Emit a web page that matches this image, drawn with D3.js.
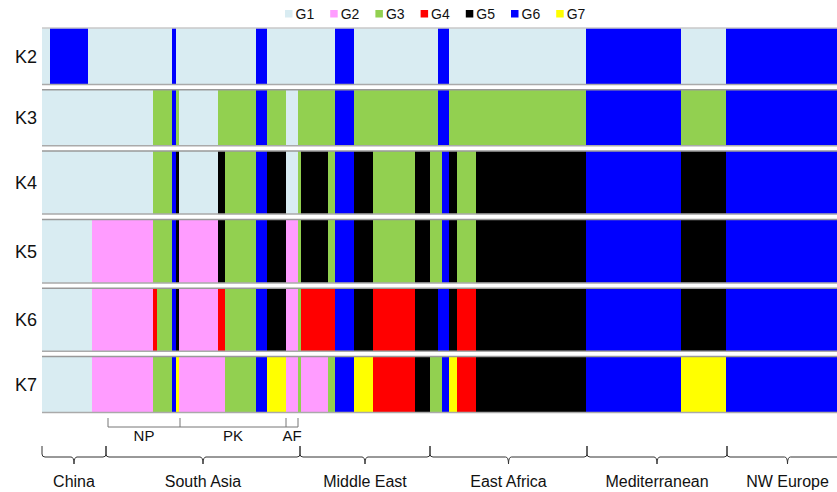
<!DOCTYPE html>
<html>
<head>
<meta charset="utf-8">
<script src="https://cdn.jsdelivr.net/npm/d3@7"></script>
<style>
  body { margin: 0; background: #fff; }
  svg { display: block; font-family: "Liberation Sans", Arial, sans-serif; }
</style>
</head>
<body>
<div id="chart"></div>
<script>
// cluster groups and their colours
const groups = ["G1", "G2", "G3", "G4", "G5", "G6", "G7"];
const groupColors = ["#d9ecf2", "#ff9cff", "#92d050", "#ff0000", "#000000", "#0000ff", "#ffff00"];

// K values (rows)
const kLabels = ["K2", "K3", "K4", "K5", "K6", "K7"];

// sample blocks, number of individuals in each block (left to right)
const blockSizes = [8, 38, 4, 61, 4, 15, 4, 3, 39, 7, 31, 11, 19, 12, 3, 27, 7, 19, 19, 42, 15, 8, 4, 7, 8, 19, 110, 95, 45, 122];

// dominant cluster of each block per K (1 = G1 ... 7 = G7)
const assignK2 = [1, 6, 1, 1, 1, 1, 6, 1, 1, 1, 1, 6, 1, 1, 1, 1, 1, 6, 1, 1, 1, 1, 6, 6, 1, 1, 1, 6, 1, 6];
const assignK3 = [1, 1, 1, 1, 3, 3, 6, 3, 1, 3, 3, 6, 3, 1, 3, 3, 3, 6, 3, 3, 3, 3, 6, 6, 3, 3, 3, 6, 3, 6];
const assignK4 = [1, 1, 1, 1, 3, 3, 6, 5, 1, 5, 3, 6, 5, 1, 3, 5, 3, 6, 5, 3, 5, 3, 3, 6, 5, 3, 5, 6, 5, 6];
const assignK5 = [1, 1, 1, 2, 3, 3, 6, 5, 2, 5, 3, 6, 5, 2, 3, 5, 3, 6, 5, 3, 5, 3, 3, 6, 5, 3, 5, 6, 5, 6];
const assignK6 = [1, 1, 1, 2, 4, 3, 6, 5, 2, 4, 3, 6, 5, 2, 3, 4, 4, 6, 5, 4, 5, 5, 6, 6, 5, 4, 5, 6, 5, 6];
const assignK7 = [1, 1, 1, 2, 3, 3, 6, 7, 2, 2, 3, 6, 7, 2, 3, 2, 3, 6, 7, 4, 5, 3, 3, 6, 7, 4, 5, 6, 7, 6];
const assignments = [assignK2, assignK3, assignK4, assignK5, assignK6, assignK7];

// regions (individual counts)
const regions = ["China", "South Asia", "Middle East", "East Africa", "Mediterranean", "NW Europe"];
const regionSizes = [64, 194, 130, 157, 140, 121];

// South Asia sub-populations
const subRegions = ["NP", "PK", "AF"];
const subStart = 66;
const subSizes = [72, 106, 12];

// ---- layout ----
const width = 837, height = 492;
const plotLeft = 42, plotRight = 848;
const rowHeights = [56.5, 56, 63, 63.5, 63, 56];
const rowGap = 5.3;
const plotTop = 28;

const svg = d3.select("#chart").append("svg")
  .attr("width", width)
  .attr("height", height);

const total = d3.sum(blockSizes);
const x = d3.scaleLinear().domain([0, total]).range([plotLeft, plotRight]);
const color = d3.scaleOrdinal().domain(d3.range(1, 8)).range(groupColors);

// cumulative starts
const blockStart = d3.cumsum([0, ...blockSizes]);
const rowTop = [];
rowHeights.reduce((acc, h, i) => { rowTop[i] = acc; return acc + h + rowGap; }, plotTop);

// rows
const rows = svg.selectAll("g.row")
  .data(kLabels)
  .join("g")
  .attr("class", "row")
  .attr("transform", (d, i) => `translate(0,${rowTop[i]})`);

rows.each(function (k, i) {
  const g = d3.select(this);
  const h = rowHeights[i];
  const blocks = assignments[i].map((c, j) => ({ c, start: blockStart[j], size: blockSizes[j] }));

  g.selectAll("rect")
    .data(blocks)
    .join("rect")
    .attr("x", d => x(d.start))
    .attr("width", d => x(d.start + d.size) - x(d.start) + 0.3)
    .attr("y", 0)
    .attr("height", h)
    .attr("fill", d => color(d.c));

  g.append("line")
    .attr("x1", plotLeft).attr("x2", width)
    .attr("y1", 0).attr("y2", 0)
    .attr("stroke", i === 0 ? "#c8c8c8" : "#999")
    .attr("stroke-width", 1.5);
  g.append("line")
    .attr("x1", plotLeft).attr("x2", width)
    .attr("y1", h).attr("y2", h)
    .attr("stroke", "#aaa")
    .attr("stroke-width", 1.5);

  g.append("text")
    .attr("x", 37)
    .attr("y", h / 2)
    .attr("dy", "0.36em")
    .attr("text-anchor", "end")
    .attr("font-size", 18)
    .attr("fill", "#111")
    .text(k);
});

// legend
const legend = svg.append("g").attr("transform", "translate(285,0)");
const li = legend.selectAll("g")
  .data(groups)
  .join("g")
  .attr("transform", (d, i) => `translate(${i * 45.2},0)`);
li.append("rect")
  .attr("x", 0).attr("y", 10)
  .attr("width", 7.5).attr("height", 7.5)
  .attr("fill", (d, i) => groupColors[i]);
li.append("text")
  .attr("x", 10.5).attr("y", 18.5)
  .attr("font-size", 14)
  .attr("fill", "#111")
  .text(d => d);

// sub-population brackets
const subBase = d3.cumsum([subStart, ...subSizes]);
const subG = svg.append("g").attr("stroke", "#777").attr("fill", "none").attr("stroke-width", 1);
subG.append("line")
  .attr("x1", x(subBase[0])).attr("x2", x(subBase[subBase.length - 1]))
  .attr("y1", 427).attr("y2", 427);
subG.selectAll("line.tick")
  .data(subBase)
  .join("line")
  .attr("class", "tick")
  .attr("x1", d => x(d)).attr("x2", d => x(d))
  .attr("y1", 418).attr("y2", 427);
svg.append("g").selectAll("text")
  .data(subRegions)
  .join("text")
  .attr("x", (d, i) => x((subBase[i] + subBase[i + 1]) / 2))
  .attr("y", 441)
  .attr("text-anchor", "middle")
  .attr("font-size", 15)
  .attr("fill", "#111")
  .text(d => d);

// region braces
const regBase = d3.cumsum([0, ...regionSizes]);
const braceTop = 446, braceY = 457, braceTip = 464, r = 3;
const braces = svg.append("g").attr("stroke", "#333").attr("fill", "none").attr("stroke-width", 1);
regions.forEach((name, i) => {
  const x0 = x(regBase[i]), x1 = x(regBase[i + 1]), xm = (x0 + x1) / 2;
  const p = d3.path();
  p.moveTo(x0, braceTop);
  p.lineTo(x0, braceY - r);
  p.quadraticCurveTo(x0, braceY, x0 + r, braceY);
  p.lineTo(xm - r, braceY);
  p.quadraticCurveTo(xm, braceY, xm, braceTip);
  p.quadraticCurveTo(xm, braceY, xm + r, braceY);
  p.lineTo(x1 - r, braceY);
  p.quadraticCurveTo(x1, braceY, x1, braceY - r);
  p.lineTo(x1, braceTop);
  braces.append("path").attr("d", p.toString());
});
svg.append("g").selectAll("text")
  .data(regions)
  .join("text")
  .attr("x", (d, i) => x((regBase[i] + regBase[i + 1]) / 2))
  .attr("y", 487)
  .attr("text-anchor", "middle")
  .attr("font-size", 16)
  .attr("fill", "#111")
  .text(d => d);
</script>
</body>
</html>
